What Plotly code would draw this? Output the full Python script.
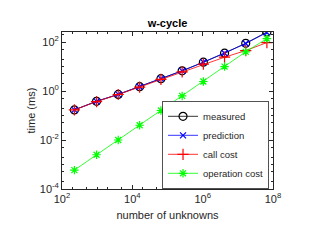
import plotly.graph_objects as go

unknowns = [225, 961, 3969, 16129, 65025, 261121, 1046529, 4190209, 16769025, 67092481]
measured = [0.17, 0.38, 0.73, 1.5, 3.2, 6.7, 15, 35, 89, 257]
prediction = [0.17, 0.38, 0.73, 1.5, 3.2, 6.7, 15, 35, 87, 245]
call_cost = [0.17, 0.37, 0.72, 1.45, 3.0, 6.0, 12.5, 24, 45, 95]
operation_cost = [0.00059, 0.0025, 0.01, 0.04, 0.16, 0.63, 2.45, 10, 40, 138]

series = [
    ("measured", measured, "#000000", "circle-open", 8),
    ("prediction", prediction, "#0000ff", "x-thin-open", 6),
    ("call cost", call_cost, "#ff0000", "cross-thin-open", 8),
    ("operation cost", operation_cost, "#00ff00", "asterisk-open", 7),
]

fig = go.Figure()
for name, vals, col, sym, sz in series:
    fig.add_trace(go.Scatter(
        x=unknowns, y=vals, name=name, mode="lines+markers",
        line=dict(color=col, width=0.8),
        marker=dict(symbol=sym, size=sz, color=col, line=dict(color=col, width=1.2)),
    ))

font = "Liberation Sans, Arial, sans-serif"
fig.update_layout(
    width=320, height=240,
    margin=dict(l=62, r=47, t=32, b=51, autoexpand=False),
    paper_bgcolor="white", plot_bgcolor="white",
    font=dict(family=font, size=11, color="#262626"),
    title=dict(text="<b>w-cycle</b>", x=0.5, xanchor="center", xref="paper",
               y=1, yref="container", yanchor="top", pad=dict(t=19),
               font=dict(size=11, color="#000000")),
    showlegend=True,
    legend=dict(x=0.475, y=0.0, xanchor="left", yanchor="bottom",
                bgcolor="white", bordercolor="#262626", borderwidth=0.8,
                font=dict(size=9.5, color="#262626"), tracegroupgap=0,
                itemwidth=30),
    annotations=[dict(text="time (ms)", xref="paper", yref="paper",
                      x=0, y=0.5, xshift=-24, showarrow=False, textangle=-90,
                      xanchor="right", yanchor="middle",
                      font=dict(size=11, color="#262626"))],
)
fig.update_xaxes(
    type="log", range=[2, 8], automargin=False,
    tickvals=[1e2, 1e4, 1e6, 1e8],
    ticktext=["10<sup>2</sup>", "10<sup>4</sup>", "10<sup>6</sup>", "10<sup>8</sup>"],
    ticks="inside", ticklen=4, tickcolor="#262626",
    showline=True, linecolor="#262626", linewidth=0.8, mirror="ticks",
    showgrid=False, zeroline=False,
    minor=dict(ticks="inside", ticklen=2, tickcolor="#262626", showgrid=False),
    title=dict(text="number of unknowns", font=dict(size=11), standoff=7),
)
fig.update_yaxes(
    type="log", range=[-4, 2.41], automargin=False,
    tickvals=[1e-4, 1e-2, 1e0, 1e2],
    ticktext=["10<sup>-4</sup>", "10<sup>-2</sup>", "10<sup>0</sup>", "10<sup>2</sup>"],
    ticks="inside", ticklen=4, tickcolor="#262626",
    showline=True, linecolor="#262626", linewidth=0.8, mirror="ticks",
    showgrid=False, zeroline=False,
    minor=dict(ticks="inside", ticklen=2, tickcolor="#262626", showgrid=False),
)

fig.write_html("out.html", config={"displayModeBar": False},
               post_script="document.body.style.margin='0';")
